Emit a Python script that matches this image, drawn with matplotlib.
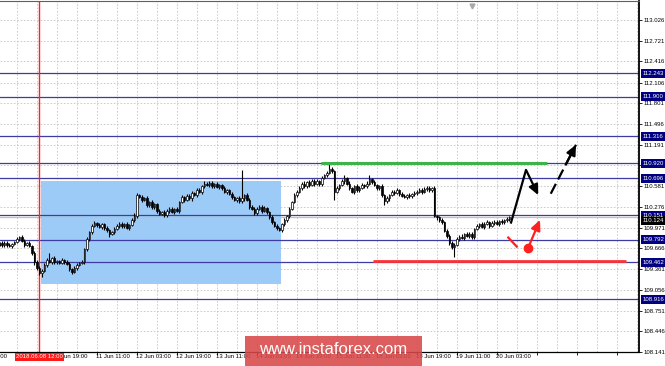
import matplotlib
matplotlib.use('Agg')
import matplotlib.pyplot as plt
import matplotlib.transforms as mtransforms
from matplotlib.patches import Rectangle
import numpy as np

# ---------------- data ----------------
first_open = 109.73
closes = [
    109.74, 109.71, 109.75, 109.72, 109.70, 109.73,
    109.76, 109.80, 109.83, 109.78,
    109.72, 109.74, 109.70,
    109.60, 109.46,
    109.38, 109.30, 109.34,
    109.42, 109.50, 109.47, 109.52, 109.46, 109.48, 109.45, 109.49, 109.47, 109.44,
    109.36, 109.32, 109.38,
    109.42, 109.45, 109.47,
    109.65, 109.80, 109.90,
    110.00, 110.04, 110.01,
    109.98, 110.02, 109.96, 109.93, 109.88, 109.90,
    109.95, 110.00, 110.03, 109.99, 110.02, 109.97, 110.01,
    110.08, 110.14,
    110.45, 110.42,
    110.38, 110.40, 110.30, 110.35, 110.27, 110.32,
    110.22, 110.17, 110.20, 110.15,
    110.22, 110.25, 110.20, 110.24, 110.22,
    110.35, 110.42, 110.38, 110.44,
    110.40, 110.48, 110.45, 110.52, 110.50,
    110.58, 110.62, 110.60, 110.63, 110.58, 110.61, 110.57, 110.60,
    110.55, 110.50, 110.52, 110.47,
    110.42, 110.38, 110.40, 110.36, 110.40,
    110.45, 110.38, 110.28, 110.25,
    110.18, 110.25, 110.28, 110.22, 110.26, 110.20,
    110.12, 110.05, 110.00, 109.96, 109.94,
    110.02, 110.08, 110.14,
    110.25, 110.35, 110.45, 110.50, 110.55,
    110.62, 110.58, 110.64, 110.60, 110.66, 110.62, 110.65, 110.61,
    110.70, 110.74, 110.78, 110.84,
    110.80, 110.50, 110.55,
    110.60, 110.65,
    110.70, 110.62,
    110.55, 110.50, 110.58, 110.52,
    110.56, 110.60, 110.58, 110.62,
    110.68, 110.64,
    110.60, 110.55, 110.58,
    110.45, 110.36, 110.40,
    110.45, 110.50, 110.48, 110.52, 110.47,
    110.44, 110.42, 110.45, 110.43, 110.46,
    110.48, 110.50, 110.53, 110.50, 110.54, 110.56, 110.52, 110.55,
    110.14, 110.12,
    110.08, 110.05,
    109.92, 109.85,
    109.74, 109.68, 109.72,
    109.80, 109.84, 109.82, 109.87, 109.85, 109.88, 109.83,
    109.95, 110.00,
    110.02, 109.98, 110.03, 110.05, 110.00, 110.04, 110.06, 110.03, 110.07,
    110.05, 110.08, 110.10, 110.12,
]
# wick lengths in pips (0.01)
wick_up = [
    2, 3, 2, 2, 3, 2, 2, 3, 2, 3,
    2, 2, 3, 2, 2, 3, 2, 2, 3, 2,
    10, 2, 3, 2, 2, 3, 2, 2, 3, 2,
    2, 3, 2, 3, 2, 3, 2, 3, 3, 2,
    3, 2, 2, 3, 2, 2, 3, 2, 2, 3,
    2, 3, 2, 3, 4, 3, 2, 3, 2, 3,
    2, 3, 2, 2, 3, 2, 3, 2, 2, 3,
    2, 3, 2, 3, 2, 3, 2, 3, 2, 3,
    3, 2, 3, 2, 2, 3, 2, 3, 2, 2,
    3, 2, 2, 3, 2, 2, 3, 42, 2, 3,
    2, 3, 2, 2, 3, 2, 3, 2, 2, 3,
    2, 3, 2, 2, 3, 2, 3, 2, 3, 2,
    3, 2, 3, 2, 3, 2, 2, 3, 2, 3,
    2, 3, 6, 3, 2, 3, 2, 3, 4, 2,
    3, 2, 2, 3, 2, 3, 2, 3, 7, 2,
    3, 2, 2, 3, 2, 3, 2, 3, 2, 3,
    2, 3, 2, 2, 3, 2, 3, 2, 3, 2,
    3, 2, 3, 2, 3, 2, 2, 3, 2, 3,
    2, 3, 2, 3, 2, 3, 2, 3, 2, 3,
    2, 3, 2, 3, 2, 3, 2, 3, 2, 3,
    2, 3, 2, 3, 2,
]
wick_dn = [
    3, 2, 2, 3, 2, 3, 2, 2, 3, 2,
    3, 2, 2, 3, 4, 3, 2, 5, 2, 3,
    2, 3, 2, 3, 2, 2, 3, 2, 3, 3,
    2, 3, 2, 2, 3, 2, 3, 2, 2, 3,
    2, 3, 2, 3, 4, 2, 3, 2, 3, 2,
    3, 2, 3, 2, 2, 3, 2, 3, 2, 3,
    2, 3, 2, 3, 2, 2, 3, 2, 3, 2,
    3, 2, 3, 2, 3, 2, 2, 3, 2, 3,
    2, 3, 2, 2, 3, 2, 3, 2, 3, 2,
    2, 3, 2, 3, 2, 3, 2, 2, 3, 2,
    3, 2, 3, 2, 2, 3, 2, 3, 2, 3,
    2, 3, 2, 3, 2, 2, 3, 2, 2, 3,
    2, 2, 3, 2, 3, 2, 3, 2, 2, 3,
    2, 3, 2, 3, 12, 2, 3, 2, 3, 2,
    3, 2, 3, 2, 3, 2, 3, 2, 2, 3,
    2, 3, 2, 3, 6, 2, 3, 2, 3, 2,
    3, 2, 2, 3, 2, 3, 2, 3, 2, 3,
    2, 3, 2, 3, 2, 3, 2, 3, 2, 3,
    3, 2, 14, 2, 3, 2, 3, 2, 3, 2,
    3, 2, 3, 2, 3, 2, 3, 2, 3, 2,
    3, 2, 3, 2, 3,
]

level_prices = [112.243, 111.900, 111.316, 110.920, 110.696,
                110.151, 109.792, 109.462, 108.916]
ytick_values = [108.141, 108.446, 108.751, 109.056, 109.361, 109.666,
                109.971, 110.276, 110.581, 110.886, 111.191, 111.496,
                111.801, 112.106, 112.416, 112.721, 113.026]
xtick_index = [-9, 23, 39, 55, 71, 87, 103, 119, 135, 151, 167, 183, 199]
xtick_labels = ['7 Jun 11:00', '8 Jun 19:00', '11 Jun 11:00',
                '12 Jun 03:00', '12 Jun 19:00', '13 Jun 11:00', '14 Jun 03:00',
                '14 Jun 19:00', '15 Jun 11:00', '18 Jun 03:00', '18 Jun 19:00',
                '19 Jun 11:00', '20 Jun 03:00']
marker_index = 16
marker_label = '2018.06.08 12:00'
bid_price = 110.124
bid_label = '110.124'

box_x = [16.6, 112.6]
box_y = [109.145, 110.650]
green_x = [128.6, 218.9]
green_y = 110.920
redline_x = [149.4, 250.6]
redline_y = 109.475
fc_solid_x = [204.5, 210.6, 215.5]
fc_solid_y = [110.03, 110.82, 110.45]
fc_dash_x = [220.5, 230.6]
fc_dash_y = [110.47, 111.19]
red_tick_x = [203.5, 206.9]
red_tick_y = [109.825, 109.692]
red_dot_xy = [211.5, 109.677]
red_tip_xy = [216.2, 110.085]

# ---------------- figure ----------------
W, H = 665, 366
fig = plt.figure(figsize=(W / 100, H / 100), dpi=100)
fig.patch.set_facecolor('white')
ax = fig.add_axes([0, (H - 352) / H, 639 / W, 351 / H])
ax.set_xlim(0.2, 255.8)
ax.set_ylim(108.1436, 113.3054)
FONT = ['Liberation Sans', 'DejaVu Sans']

# grid
grid_col = '#c4c4c4'
for gx in range(-1, 256, 8):
    ax.axvline(gx, color=grid_col, lw=0.6, dashes=(2, 2), zorder=0)
for gy in ytick_values:
    ax.axhline(gy, color=grid_col, lw=0.6, dashes=(2, 2), zorder=0)

# blue zone
ax.add_patch(Rectangle((box_x[0], box_y[0]), box_x[1] - box_x[0], box_y[1] - box_y[0],
                       facecolor='#9ccbf7', edgecolor='none', zorder=1))

# level lines
for lv in level_prices:
    ax.axhline(lv, color='#3c3ca4', lw=0.9, zorder=2)
ax.axhline(bid_price, color='#c0c0c0', lw=0.9, zorder=2)

# red vertical marker
ax.axvline(marker_index, color='#ff2020', lw=1.0, zorder=2)

# candles
c = np.array(closes)
o = np.array([first_open] + closes[:-1])
idx = np.arange(len(c))
hi = np.maximum(o, c) + np.array(wick_up) * 0.01
lo = np.minimum(o, c) - np.array(wick_dn) * 0.01
ax.vlines(idx, lo, hi, color='black', lw=0.8, zorder=3)
bull = c >= o
bot = np.minimum(o, c)
hgt = np.abs(c - o)
ax.bar(idx[bull], hgt[bull], bottom=bot[bull], width=0.7, facecolor='white',
       edgecolor='black', lw=0.5, zorder=4)
ax.bar(idx[~bull], hgt[~bull], bottom=bot[~bull], width=0.7, facecolor='black',
       edgecolor='black', lw=0.5, zorder=4)

# green / red horizontal lines
ax.plot(green_x, [green_y, green_y], color='#3cb44b', lw=2.2, zorder=5,
        solid_capstyle='butt')
ax.plot(redline_x, [redline_y, redline_y], color='#ff3333', lw=2.0, zorder=5,
        solid_capstyle='butt')

# forecast arrows
head = '-|>,head_length=0.6,head_width=0.28'
ax.plot(fc_solid_x[:2], fc_solid_y[:2], color='black', lw=1.6, zorder=6,
        solid_capstyle='butt')
ax.annotate('', xy=(fc_solid_x[2], fc_solid_y[2]), xytext=(fc_solid_x[1], fc_solid_y[1]),
            arrowprops=dict(arrowstyle=head, color='black', lw=1.6,
                            shrinkA=0, shrinkB=0), zorder=6)
ax.plot(fc_dash_x, fc_dash_y, color='black', lw=1.6, dashes=(5, 2.2), zorder=6)
mid_x = fc_dash_x[0] + 0.6 * (fc_dash_x[1] - fc_dash_x[0])
mid_y = fc_dash_y[0] + 0.6 * (fc_dash_y[1] - fc_dash_y[0])
ax.annotate('', xy=(fc_dash_x[1], fc_dash_y[1]), xytext=(mid_x, mid_y),
            arrowprops=dict(arrowstyle=head, color='black', lw=1.6,
                            shrinkA=0, shrinkB=0), zorder=6)
ax.plot(red_tick_x, red_tick_y, color='#ff2020', lw=1.6, zorder=6)
ax.plot([red_dot_xy[0]], [red_dot_xy[1]], 'o', color='#ff2020', ms=6, zorder=7)
ax.annotate('', xy=tuple(red_tip_xy), xytext=tuple(red_dot_xy),
            arrowprops=dict(arrowstyle=head, color='#ff2020', lw=1.6,
                            shrinkA=0, shrinkB=0), zorder=6)

# chart shift marker
ax.plot([189], [0.985], 'v', color='#a8a8a8', ms=3.5,
        transform=mtransforms.blended_transform_factory(ax.transData, ax.transAxes),
        clip_on=False, zorder=6)

# spines / ticks
ax.spines['left'].set_visible(False)
ax.spines['right'].set_color('black')
ax.spines['right'].set_linewidth(1.3)
ax.spines['bottom'].set_color('black')
ax.spines['bottom'].set_linewidth(0.9)
ax.spines['top'].set_color('#606060')
ax.spines['top'].set_linewidth(0.8)

ax.yaxis.tick_right()
ax.set_yticks(ytick_values)
ax.set_yticklabels([f'{v:.3f}' for v in ytick_values], fontsize=4.3, family=FONT)
ax.tick_params(axis='y', length=2, width=0.6, pad=1.5, colors='black')
ax.set_xticks([7] + [t for t in xtick_index if t > 0] + [215, 231, 247])
ax.set_xticklabels([])
ax.tick_params(axis='x', length=2, width=0.6)

blend_x = mtransforms.blended_transform_factory(ax.transData, ax.transAxes)
blend_y = mtransforms.blended_transform_factory(ax.transAxes, ax.transData)
for t, lab in zip(xtick_index, xtick_labels):
    ax.text(t - 0.3, -0.0142, lab, transform=blend_x, ha='left', va='center',
            fontsize=4.3, family=FONT, color='black', clip_on=False)
ax.text(marker_index, -0.0142, marker_label, transform=blend_x, ha='center', va='center',
        fontsize=4.3, family=FONT, color='white', clip_on=False, zorder=8,
        bbox=dict(boxstyle='square,pad=0.25', facecolor='#ff1a1a', edgecolor='none'))

# level price boxes on right axis
bh = 9 / 68.0
for lv in level_prices:
    ax.add_patch(Rectangle((1.003, lv - bh / 2), 0.06, bh, transform=blend_y,
                           facecolor='#000080', edgecolor='none', clip_on=False, zorder=8))
    ax.text(1.006, lv, f'{lv:.3f}', transform=blend_y, ha='left', va='center',
            fontsize=4.3, family=FONT, color='white', clip_on=False, zorder=9)
bid_c = bid_price - 0.045
ax.add_patch(Rectangle((1.003, bid_c - bh / 2), 0.06, bh, transform=blend_y,
                       facecolor='black', edgecolor='none', clip_on=False, zorder=8))
ax.text(1.006, bid_c, bid_label, transform=blend_y, ha='left', va='center',
        fontsize=4.3, family=FONT, color='white', clip_on=False, zorder=9)

# watermark
wm = Rectangle((245 / W, 0), (422 - 245) / W, 30 / H, transform=fig.transFigure,
               facecolor='#d94848', edgecolor='none', alpha=0.88, zorder=20)
fig.add_artist(wm)
fig.text(333 / W, (H - 350) / H, 'www.instaforex.com', ha='center', va='center',
         fontsize=12, family=FONT, color='white', zorder=21)

fig.savefig('out.png', dpi=100, facecolor='white')
